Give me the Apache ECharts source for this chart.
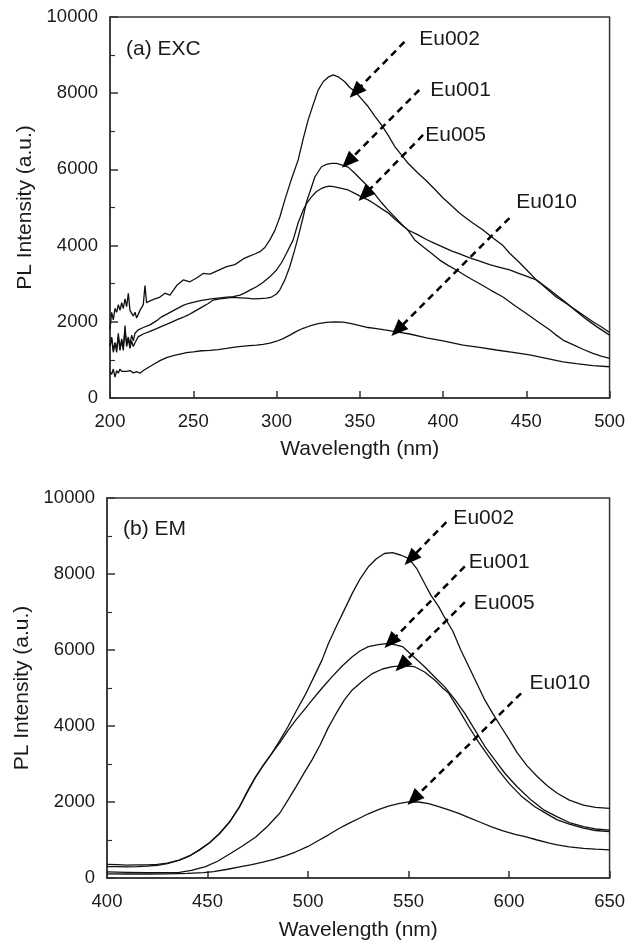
<!DOCTYPE html>
<html>
<head>
<meta charset="utf-8">
<script src="https://cdn.jsdelivr.net/npm/echarts@6/dist/echarts.min.js"></script>
<style>
html,body{margin:0;padding:0;background:#fff;}
#c{width:628px;height:945px;}
</style>
</head>
<body>
<div id="c"></div>
<script>
// ---------- DATA ----------
const seriesNames = ['Eu002', 'Eu001', 'Eu005', 'Eu010'];
const excTicksX = [200, 250, 300, 350, 400, 450, 500];
const emTicksX = [400, 450, 500, 550, 600, 650];
const yTicks = [0, 2000, 4000, 6000, 8000, 10000];

// (a) EXC spectra  [wavelength nm, intensity]
const excEu002 = [[200,1800],[201,2250],[202,2050],[203,2350],[204,2250],[205,2450],[206,2300],[207,2500],[208,2350],[209,2600],[210,2400],[211,2750],[212,2300],[213,2250],[214,2150],[215,2250],[216,2100],[217,2200],[218,2300],[219,2250],[220,2450],[221,2950],[222,2500],[223,2450],[224,2550],[225,2500],[227,2600],[230,2650],[233,2750],[236,2700],[240,2950],[244,3100],[248,3050],[252,3150],[256,3270],[260,3250],[265,3350],[270,3450],[275,3500],[280,3650],[283,3710],[287,3780],[290,3840],[293,3950],[296,4150],[299,4400],[302,4750],[305,5200],[309,5750],[313,6250],[316,6800],[319,7300],[322,7700],[325,8080],[328,8300],[331,8420],[334,8480],[337,8430],[341,8300],[344,8150],[347,8050],[351,7850],[355,7650],[359,7400],[363,7170],[367,6900],[371,6600],[375,6380],[379,6160],[385,5900],[390,5700],[395,5480],[400,5250],[405,5050],[410,4850],[417,4620],[424,4410],[430,4200],[436,4000],[440,3800],[446,3550],[452,3280],[456,3100],[460,2950],[464,2800],[468,2650],[474,2480],[480,2300],[485,2150],[490,2000],[495,1870],[500,1720]];
const excEu001 = [[200,1350],[201,1600],[202,1250],[203,1450],[204,1200],[205,1700],[206,1300],[207,1500],[208,1250],[209,1900],[210,1350],[211,1550],[212,1300],[213,1500],[214,1350],[215,1450],[217,1610],[220,1680],[224,1750],[228,1820],[231,1880],[235,1950],[240,2050],[244,2120],[247,2180],[251,2280],[255,2380],[259,2480],[262,2570],[266,2600],[270,2620],[274,2640],[278,2630],[282,2620],[286,2600],[290,2610],[294,2620],[297,2650],[300,2730],[302,2840],[305,3100],[308,3450],[311,3900],[313,4230],[316,4750],[318,5150],[320,5400],[323,5800],[327,6070],[330,6130],[333,6160],[336,6160],[339,6120],[343,6060],[347,5900],[351,5720],[355,5550],[359,5350],[363,5130],[367,4930],[371,4750],[375,4570],[379,4400],[383,4150],[388,3970],[393,3800],[398,3620],[403,3480],[408,3360],[415,3170],[422,3000],[429,2820],[436,2650],[443,2430],[450,2220],[457,2000],[464,1790],[468,1650],[472,1520],[478,1400],[484,1280],[490,1170],[495,1100],[500,1040]];
const excEu005 = [[200,1400],[201,1550],[202,1200],[203,1450],[204,1300],[205,1600],[206,1250],[207,1550],[208,1350],[209,1750],[210,1450],[211,1600],[212,1400],[213,1650],[214,1500],[215,1700],[217,1790],[220,1850],[224,1920],[228,2030],[231,2130],[235,2220],[240,2340],[244,2430],[247,2480],[251,2520],[255,2560],[259,2590],[262,2610],[266,2630],[270,2650],[274,2660],[278,2700],[281,2760],[284,2830],[288,2920],[292,3040],[296,3180],[300,3360],[303,3550],[306,3800],[310,4150],[313,4600],[316,4930],[318,5100],[321,5280],[324,5420],[327,5500],[330,5550],[332,5560],[335,5540],[339,5500],[343,5460],[347,5370],[351,5280],[355,5200],[359,5090],[363,4970],[367,4860],[371,4700],[375,4550],[379,4410],[385,4280],[390,4160],[395,4060],[400,3960],[405,3860],[410,3780],[416,3680],[422,3590],[428,3500],[434,3430],[440,3360],[445,3280],[450,3200],[456,3100],[460,2970],[464,2840],[468,2700],[474,2500],[480,2280],[486,2070],[492,1880],[500,1650]];
const excEu010 = [[200,700],[201,620],[202,760],[203,550],[204,720],[205,650],[206,760],[207,700],[208,740],[210,700],[212,720],[214,660],[216,690],[218,650],[220,720],[223,800],[226,880],[230,980],[234,1060],[238,1110],[242,1150],[246,1190],[250,1210],[255,1240],[260,1250],[265,1270],[270,1300],[276,1340],[282,1370],[288,1390],[292,1410],[296,1440],[300,1490],[304,1560],[308,1650],[312,1750],[316,1830],[320,1890],[325,1950],[330,1985],[335,2000],[340,1990],[345,1950],[350,1900],[355,1850],[360,1820],[366,1780],[373,1730],[380,1680],[390,1580],[400,1500],[412,1390],[422,1330],[432,1260],[442,1200],[452,1130],[462,1040],[472,950],[480,900],[490,850],[500,820]];

// (b) EM spectra
const emEu002 = [[400,360],[405,350],[410,340],[415,345],[420,345],[425,360],[430,390],[436,470],[441,580],[446,740],[451,930],[456,1170],[461,1480],[466,1880],[470,2300],[474,2670],[478,2990],[482,3280],[486,3620],[490,3980],[494,4380],[499,4860],[503,5300],[507,5740],[510,6150],[514,6610],[518,7050],[522,7490],[526,7880],[530,8190],[534,8400],[538,8540],[542,8560],[546,8500],[550,8410],[554,8150],[558,7750],[561,7450],[565,7140],[568,6850],[572,6500],[576,6000],[580,5560],[584,5120],[588,4680],[592,4320],[596,3980],[600,3650],[604,3300],[609,2950],[614,2670],[619,2430],[624,2230],[630,2050],[637,1920],[643,1860],[650,1830]];
const emEu001 = [[400,300],[405,300],[410,295],[415,300],[420,310],[425,330],[430,380],[436,470],[441,580],[446,740],[451,930],[456,1170],[461,1470],[466,1880],[470,2280],[474,2660],[478,2980],[482,3280],[486,3560],[490,3880],[494,4160],[498,4420],[502,4680],[507,5000],[512,5300],[517,5580],[522,5820],[526,5980],[530,6090],[535,6140],[540,6175],[544,6130],[547,6090],[552,5850],[558,5560],[563,5290],[568,5030],[573,4700],[578,4330],[583,3900],[588,3460],[593,3100],[598,2750],[604,2400],[611,2050],[617,1800],[624,1610],[630,1460],[637,1350],[643,1290],[650,1260]];
const emEu005 = [[400,160],[410,150],[420,140],[430,140],[436,150],[442,200],[449,300],[455,440],[461,630],[467,830],[474,1080],[480,1370],[486,1710],[490,2050],[494,2400],[498,2760],[502,3110],[506,3500],[510,3950],[514,4330],[518,4680],[522,4950],[527,5180],[532,5380],[537,5500],[542,5560],[547,5580],[553,5560],[558,5420],[563,5210],[567,5000],[570,4860],[575,4430],[580,3980],[585,3560],[590,3190],[595,2820],[600,2490],[606,2160],[613,1870],[619,1680],[624,1530],[630,1420],[637,1310],[643,1250],[650,1220]];
const emEu010 = [[400,110],[410,105],[420,105],[430,110],[440,120],[448,140],[453,170],[460,230],[466,290],[472,350],[477,410],[483,490],[489,590],[494,690],[500,830],[505,980],[510,1130],[515,1290],[520,1430],[525,1560],[530,1690],[535,1800],[540,1890],[545,1960],[550,2005],[555,2000],[560,1960],[565,1880],[570,1790],[575,1700],[580,1590],[586,1460],[591,1350],[597,1240],[603,1150],[608,1090],[614,1000],[620,920],[624,870],[630,820],[637,780],[643,760],[650,740]];

// annotation arrows: [start, tip] and label anchor (data coords)
const excArrows = [[[376.8,9344],[347.5,8040]], [[385.7,8084],[342.9,6200]], [[388,6903],[352.8,5330]], [[439.9,4724],[372.6,1785]]];
const excLabels = [[385.7,9423],[392.3,8084],[389.3,6903],[444,5150]];
const emArrows = [[[568.8,9368],[551,8400]], [[578,8200],[541,6210]], [[578,7260],[546.5,5600]], [[606,4860],[552.5,2080]]];
const emLabels = [[572.3,9465],[580,8303],[582.5,7228],[610.2,5123]];

const panelTitles = ['(a) EXC', '(b) EM'];
const xName = 'Wavelength (nm)';
const yName = 'PL Intensity (a.u.)';

// ---------- CHART ----------
const FONT = 'Liberation Sans, Arial, sans-serif';
const TXT = '#1a1a1a';
const chart = echarts.init(document.getElementById('c'), null, {renderer: 'canvas'});

function xAxis(gi, ticks, gap) {
  return {
    type: 'value', gridIndex: gi, min: ticks[0], max: ticks[ticks.length - 1], interval: ticks[1] - ticks[0],
    name: xName, nameLocation: 'middle', nameGap: gap,
    nameTextStyle: {fontFamily: FONT, fontSize: 21, color: TXT},
    axisLine: {lineStyle: {color: '#333', width: 1.5}},
    axisTick: {inside: true, length: 7, lineStyle: {color: '#333', width: 1.5}},
    axisLabel: {fontFamily: FONT, fontSize: 18.5, color: TXT, margin: 14, formatter: v => String(v)},
    splitLine: {show: false}
  };
}
function yAxis(gi, gap) {
  return {
    type: 'value', gridIndex: gi, min: yTicks[0], max: yTicks[yTicks.length - 1], interval: yTicks[1] - yTicks[0],
    name: yName, nameLocation: 'middle', nameGap: gap,
    nameTextStyle: {fontFamily: FONT, fontSize: 21, color: TXT},
    axisLine: {lineStyle: {color: '#333', width: 1.5}},
    axisTick: {inside: true, length: 8, lineStyle: {color: '#333', width: 1.5}},
    minorTick: {show: true, splitNumber: 2, length: 5, lineStyle: {color: '#333', width: 1.2}},
    axisLabel: {fontFamily: FONT, fontSize: 18.5, color: TXT, margin: 12, formatter: v => String(v)},
    splitLine: {show: false}, minorSplitLine: {show: false}
  };
}
function line(name, data, gi, arrow, label) {
  return {
    name: name, type: 'line', xAxisIndex: gi, yAxisIndex: gi, data: data,
    showSymbol: false, symbol: 'none', silent: true,
    lineStyle: {color: '#111', width: 1.3},
    markLine: {
      silent: true, animation: false,
      symbol: ['none', 'triangle'], symbolSize: [14, 17],
      lineStyle: {color: '#000', width: 2.5, type: [7, 5]},
      label: {show: false},
      data: [[{coord: arrow[0]}, {coord: arrow[1]}]]
    },
    markPoint: {
      silent: true, animation: false, symbol: 'circle', symbolSize: 0,
      label: {show: true, position: 'right', distance: 0, formatter: name,
              fontFamily: FONT, fontSize: 21, color: TXT},
      data: [{coord: label}]
    }
  };
}

const excData = [excEu002, excEu001, excEu005, excEu010];
const emData = [emEu002, emEu001, emEu005, emEu010];
const series = [];
seriesNames.forEach((n, i) => series.push(line(n, excData[i], 0, excArrows[i], excLabels[i])));
seriesNames.forEach((n, i) => series.push(line(n, emData[i], 1, emArrows[i], emLabels[i])));

chart.setOption({
  animation: false,
  backgroundColor: '#fff',
  title: [
    {text: panelTitles[0], left: 121, top: 34, textStyle: {fontFamily: FONT, fontSize: 21, fontWeight: 'normal', color: TXT}},
    {text: panelTitles[1], left: 118, top: 514, textStyle: {fontFamily: FONT, fontSize: 21, fontWeight: 'normal', color: TXT}}
  ],
  grid: [
    {left: 110, top: 17, width: 505, height: 381, show: true, borderColor: '#333', borderWidth: 1.5},
    {left: 107, top: 498, width: 505, height: 380, show: true, borderColor: '#333', borderWidth: 1.5}
  ],
  xAxis: [xAxis(0, excTicksX, 41), xAxis(1, emTicksX, 42)],
  yAxis: [yAxis(0, 74), yAxis(1, 71)],
  series: series
});
</script>
</body>
</html>
